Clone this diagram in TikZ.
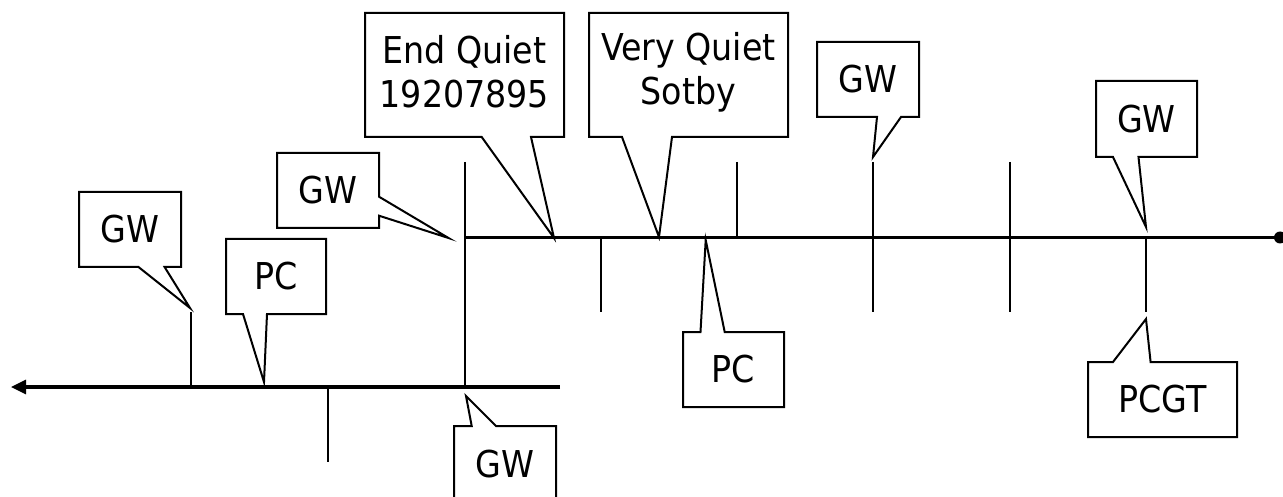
\documentclass[tikz,border=0pt]{standalone}
\usepackage{fontspec}
\setmainfont{DejaVu Sans Condensed}
\usetikzlibrary{arrows.meta}
\begin{document}
\begin{tikzpicture}[x=1pt,y=-1pt,
  cbox/.style={draw=black,line width=2pt,line join=miter,fill=white},
  tickline/.style={draw=black,line width=2pt},
  mainline/.style={draw=black,line width=3.2pt},
  lbl/.style={inner sep=0pt,align=center,font=\fontsize{37}{44}\selectfont}]
\useasboundingbox (0,0) rectangle (1283,497);
\clip (0,0) rectangle (1283,497);
% main lines
\coordinate (lowR) at (560,387);
\coordinate (lowL) at (11,387);
\coordinate (upL) at (464,237.5);
\coordinate (upR) at (1280,237.5);
\draw[mainline,-{Triangle[length=15pt,width=14pt]}] (lowR) -- (lowL);
\draw[mainline] (upL) -- (upR);
\fill (upR) circle (6pt);
% ticks
\draw[tickline] (191,312) -- (191,387);
\draw[tickline] (328,387) -- (328,462);
\draw[tickline] (465,162) -- (465,387);
\draw[tickline] (601,237) -- (601,312);
\draw[tickline] (737,162) -- (737,237);
\draw[tickline] (873,162) -- (873,312);
\draw[tickline] (1010,162) -- (1010,312);
\draw[tickline] (1146,237) -- (1146,312);
% callouts
\draw[cbox] (79,192) -- (181,192) -- (181,267) -- (164.6,267) -- (190,308) -- (138.5,267) -- (79,267) -- cycle;
\node[lbl] (gwA) at (130,229.5) {GW};
\draw[cbox] (226,239) -- (326,239) -- (326,314) -- (267,314) -- (264,382) -- (243,314) -- (226,314) -- cycle;
\node[lbl] (pcA) at (276,276.5) {PC};
\draw[cbox] (277,153) -- (379,153) -- (379,196.7) -- (448.5,238) -- (379,215.7) -- (379,228) -- (277,228) -- cycle;
\node[lbl] (gwC) at (328,190.5) {GW};
\draw[cbox] (454,505) -- (454,426) -- (471.7,426) -- (466,396) -- (496,426) -- (556,426) -- (556,505);
\node[lbl] (gwD) at (505,464) {GW};
\draw[cbox] (365,13) -- (564,13) -- (564,137) -- (531,137) -- (554,238) -- (481.7,137) -- (365,137) -- cycle;
\node[lbl] (endq) at (464.5,72) {End Quiet\\19207895};
\draw[cbox] (589,13) -- (788,13) -- (788,137) -- (672,137) -- (659,237) -- (622,137) -- (589,137) -- cycle;
\node[lbl] (veryq) at (688.5,72) {Very Quiet\\Sotby};
\draw[cbox] (817,42) -- (919,42) -- (919,117) -- (901,117) -- (873,157) -- (877,117) -- (817,117) -- cycle;
\node[lbl] (gwG) at (868,79.5) {GW};
\draw[cbox] (683,332) -- (700.5,332) -- (705.7,240) -- (724.7,332) -- (784,332) -- (784,407) -- (683,407) -- cycle;
\node[lbl] (pcH) at (733.5,369.5) {PC};
\draw[cbox] (1096,81) -- (1197,81) -- (1197,157) -- (1138.5,157) -- (1146,227) -- (1113,157) -- (1096,157) -- cycle;
\node[lbl] (gwI) at (1146.5,119) {GW};
\draw[cbox] (1088,362) -- (1113,362) -- (1146,319) -- (1150.6,362) -- (1237,362) -- (1237,437) -- (1088,437) -- cycle;
\node[lbl] (pcgt) at (1162.5,399.5) {PCGT};
\end{tikzpicture}
\end{document}
